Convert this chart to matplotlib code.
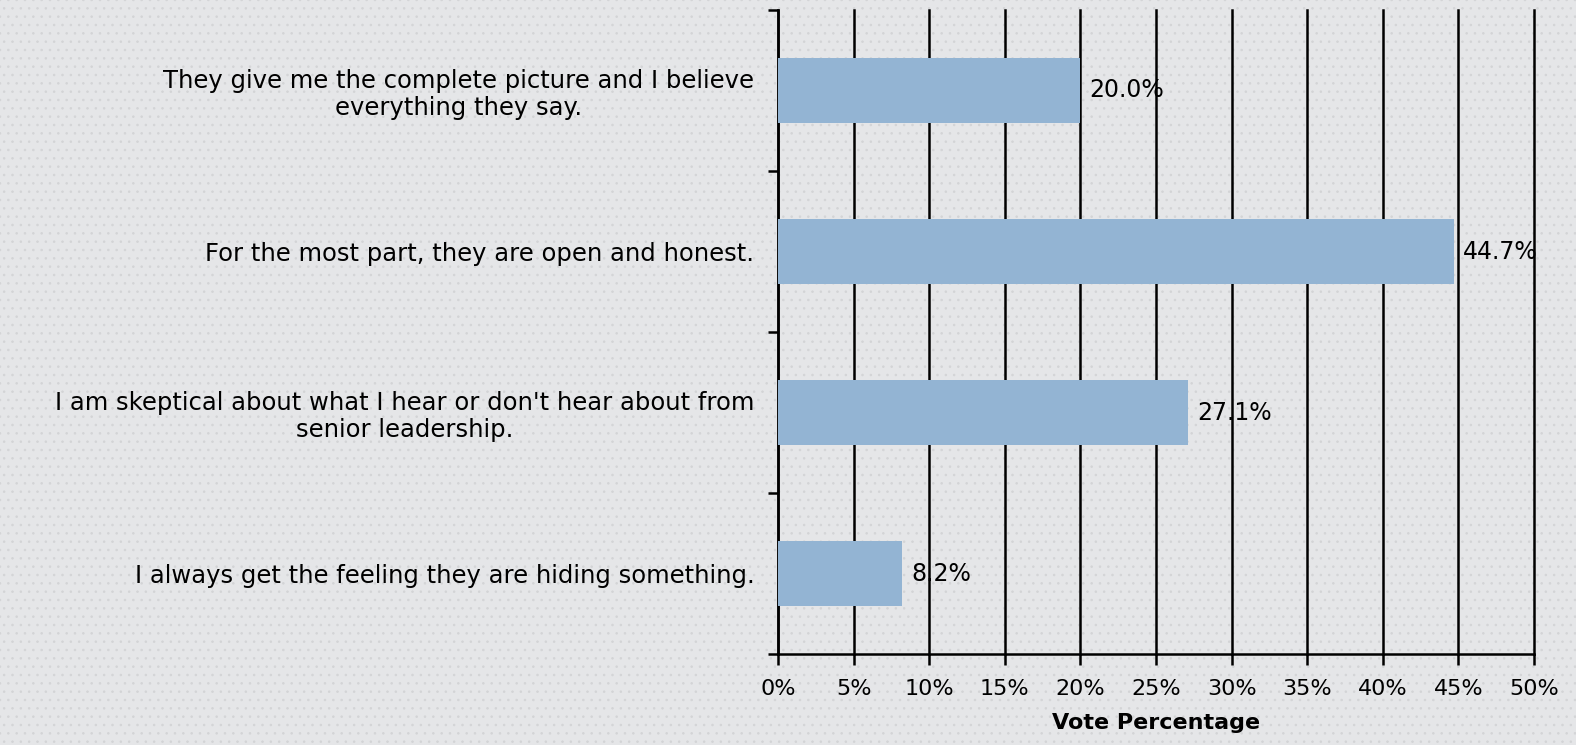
import matplotlib.pyplot as plt
from matplotlib.patches import Rectangle
from matplotlib.ticker import FuncFormatter, FixedLocator
import numpy as np

# Survey answers, top to bottom as shown in the chart.
answers = [
    "They give me the complete picture and I believe\neverything they say.",
    "For the most part, they are open and honest.",
    "I am skeptical about what I hear or don't hear about from\nsenior leadership.",
    "I always get the feeling they are hiding something.",
]
vote_pct = [20.0, 44.7, 27.1, 8.2]
x_ticks = [0, 5, 10, 15, 20, 25, 30, 35, 40, 45, 50]

bar_color = '#93b4d3'
bg_color = '#e5e6e8'

plt.rcParams['font.family'] = ['DejaVu Sans']

fig = plt.figure(figsize=(15.76, 7.45), dpi=100, facecolor=bg_color)
# dotted paper look behind everything
plt.rcParams['hatch.linewidth'] = 0.6
fig.patches.append(Rectangle((0, 0), 1, 1, transform=fig.transFigure,
                             facecolor=bg_color, edgecolor='#d3d4d6',
                             hatch='..', linewidth=0, zorder=-10))

ax = fig.add_axes([0.4937, 0.122, 0.4797, 0.8646])
ax.set_facecolor('none')

y = np.arange(len(answers))
ax.barh(y, vote_pct, height=0.4, color=bar_color, zorder=3)

for yi, v in zip(y, vote_pct):
    ax.text(v + 0.6, yi, f"{v:.1f}%", va='center', ha='left', fontsize=17, zorder=4)

ax.set_xlim(0, 50)
ax.set_ylim(len(answers) - 0.5, -0.5)

ax.xaxis.set_major_locator(FixedLocator(x_ticks))
ax.xaxis.set_major_formatter(FuncFormatter(lambda v, p: f"{v:.0f}%"))
ax.grid(axis='x', color='black', linewidth=1.8, zorder=1)
ax.set_axisbelow(True)
for gl in ax.get_xgridlines():
    gl.set_clip_on(False)

ax.set_yticks(y)
ax.set_yticklabels(answers, fontsize=17.5)
for lab in ax.get_yticklabels():
    lab.set_multialignment('center')
    lab.set_linespacing(1.15)
ax.tick_params(axis='y', length=0, pad=17)
# category separators on the y axis
ax.set_yticks(np.arange(-0.5, len(answers), 1), minor=True)
ax.tick_params(axis='y', which='minor', length=7, width=1.8, color='black')
ax.tick_params(axis='x', length=8, width=1.8, labelsize=16, pad=10)

for s in ['top', 'right']:
    ax.spines[s].set_visible(False)
ax.spines['left'].set_linewidth(1.8)
ax.spines['bottom'].set_linewidth(1.8)

ax.set_xlabel("Vote Percentage", fontsize=16, fontweight='bold', labelpad=10)

fig.savefig('out.png', dpi=100, facecolor=bg_color)
